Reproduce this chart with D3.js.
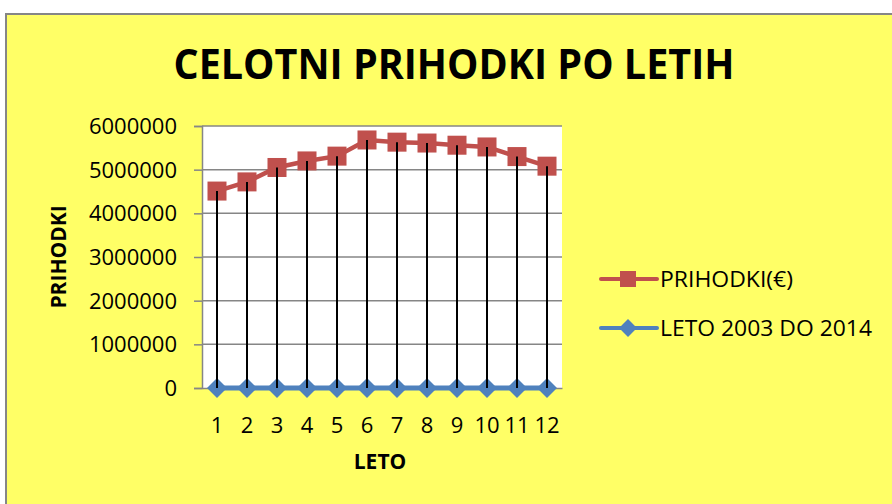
<!DOCTYPE html>
<html>
<head>
<meta charset="utf-8">
<script src="https://cdn.jsdelivr.net/npm/d3@7"></script>
<style>
  html, body { margin: 0; padding: 0; background: #ffffff; }
  text { font-family: 'Open Sans', sans-serif; fill: #000000; }
</style>
</head>
<body>
<div id="chart"></div>
<script>
// Data
var categories = ['1', '2', '3', '4', '5', '6', '7', '8', '9', '10', '11', '12'];
var prihodki = [4510000, 4720000, 5050000, 5200000, 5310000, 5680000, 5630000, 5610000, 5560000, 5520000, 5300000, 5080000];
var leta = [2003, 2004, 2005, 2006, 2007, 2008, 2009, 2010, 2011, 2012, 2013, 2014];
var yTicks = [0, 1000000, 2000000, 3000000, 4000000, 5000000, 6000000];
var seriesNames = ['PRIHODKI(€)', 'LETO 2003 DO 2014'];

var w = 892;
var h = 504;
var red = '#C0504D';
var blue = '#4F81BD';
var grey = '#868686';

var svg = d3.select('#chart').append('svg').attr('width', w).attr('height', h);

// Chart background with border
svg.append('rect')
  .attr('x', 6).attr('y', 14)
  .attr('width', w).attr('height', h)
  .attr('fill', '#FFFF66')
  .attr('stroke', grey)
  .attr('stroke-width', 2);

// Scales
var x = d3.scaleBand().domain(categories).range([202, 562]);
var y = d3.scaleLinear().domain([0, 6000000]).range([388, 126]);

// Plot area
svg.append('rect')
  .attr('x', 202).attr('y', 126)
  .attr('width', 360).attr('height', 262)
  .attr('fill', '#ffffff');

// Gridlines
svg.append('g')
  .selectAll('line')
  .data(yTicks.slice(1))
  .enter()
  .append('line')
  .attr('x1', 202).attr('x2', 562)
  .attr('y1', (d) => y(d)).attr('y2', (d) => y(d))
  .attr('stroke', grey)
  .attr('stroke-width', 1.5);

// Y axis
var yAxis = d3.axisLeft(y).tickValues(yTicks).tickFormat(d3.format('d')).tickSize(8).tickPadding(17);
var gy = svg.append('g').attr('transform', 'translate(202,0)').call(yAxis);
gy.select('.domain').attr('stroke', grey).attr('stroke-width', 1.5);
gy.selectAll('.tick line').attr('stroke', grey).attr('stroke-width', 1.5);
gy.selectAll('.tick text')
  .attr('font-family', "'Open Sans', sans-serif")
  .attr('font-size', 22)
  .attr('dy', '0.34em')
  .attr('fill', '#000');

// X axis
var xAxis = d3.axisBottom(x).tickSize(0).tickPadding(29);
var gx = svg.append('g').attr('transform', 'translate(0,388)').call(xAxis);
gx.select('.domain').attr('stroke', grey).attr('stroke-width', 1.5);
gx.selectAll('.tick text')
  .attr('font-family', "'Open Sans', sans-serif")
  .attr('font-size', 22)
  .attr('fill', '#000');

var cx = (d, i) => x(categories[i]) + x.bandwidth() / 2;

// Blue series line + diamonds
var line = d3.line().x((d, i) => cx(d, i)).y((d) => y(d));
svg.append('path')
  .datum(leta)
  .attr('d', line)
  .attr('fill', 'none')
  .attr('stroke', blue)
  .attr('stroke-width', 5);

var diamond = d3.symbol().type(d3.symbolSquare).size(200);
svg.append('g')
  .selectAll('path')
  .data(leta)
  .enter()
  .append('path')
  .attr('d', diamond)
  .attr('transform', (d, i) => `translate(${cx(d, i)},${y(d)}) rotate(45)`)
  .attr('fill', blue);

// Red series line + squares
svg.append('path')
  .datum(prihodki)
  .attr('d', line)
  .attr('fill', 'none')
  .attr('stroke', red)
  .attr('stroke-width', 4.5);

svg.append('g')
  .selectAll('rect')
  .data(prihodki)
  .enter()
  .append('rect')
  .attr('x', (d, i) => cx(d, i) - 9.5)
  .attr('y', (d) => y(d) - 9.5)
  .attr('width', 19).attr('height', 19)
  .attr('fill', red);

// High-low lines
svg.append('g')
  .selectAll('line')
  .data(prihodki)
  .enter()
  .append('line')
  .attr('x1', (d, i) => cx(d, i)).attr('x2', (d, i) => cx(d, i))
  .attr('y1', (d) => y(d))
  .attr('y2', (d, i) => y(leta[i]))
  .attr('stroke', '#000')
  .attr('stroke-width', 2);

// Title
svg.append('text')
  .attr('x', 454).attr('y', 79)
  .attr('text-anchor', 'middle')
  .attr('font-size', 42)
  .attr('font-weight', 'bold')
  .attr('textLength', 561)
  .attr('lengthAdjust', 'spacingAndGlyphs')
  .text('CELOTNI PRIHODKI PO LETIH');

// Axis titles
svg.append('text')
  .attr('x', 380).attr('y', 469)
  .attr('text-anchor', 'middle')
  .attr('font-size', 21)
  .attr('font-weight', 'bold')
  .text('LETO');

svg.append('text')
  .attr('transform', 'translate(66,257) rotate(-90)')
  .attr('text-anchor', 'middle')
  .attr('font-size', 21)
  .attr('font-weight', 'bold')
  .text('PRIHODKI');

// Legend
var legend = svg.append('g');
var legendY = [279, 328];
var legendWidths = [133, 212];
var legendColors = [red, blue];

legend.selectAll('line')
  .data(seriesNames)
  .enter()
  .append('line')
  .attr('x1', 601).attr('x2', 657)
  .attr('y1', (d, i) => legendY[i]).attr('y2', (d, i) => legendY[i])
  .attr('stroke', (d, i) => legendColors[i])
  .attr('stroke-width', 4)
  .attr('stroke-linecap', 'round');

legend.append('rect')
  .attr('x', 620).attr('y', legendY[0] - 8)
  .attr('width', 16).attr('height', 16)
  .attr('fill', red);

legend.append('path')
  .attr('d', d3.symbol().type(d3.symbolSquare).size(160))
  .attr('transform', `translate(628,${legendY[1]}) rotate(45)`)
  .attr('fill', blue);

legend.selectAll('text')
  .data(seriesNames)
  .enter()
  .append('text')
  .attr('x', 660)
  .attr('y', (d, i) => legendY[i] + 8)
  .attr('font-size', 21)
  .attr('textLength', (d, i) => legendWidths[i])
  .attr('lengthAdjust', 'spacingAndGlyphs')
  .text((d) => d);
</script>
</body>
</html>
